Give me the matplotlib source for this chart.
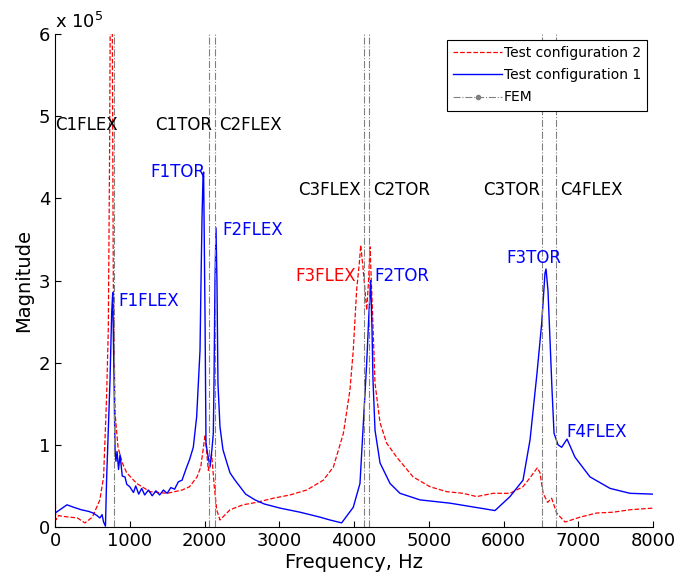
import numpy as np
import matplotlib; matplotlib.use("Agg")
import matplotlib.pyplot as plt

# Test configuration 1 (blue, solid)
freq1 = [0, 50, 160, 250, 350, 450, 510, 560, 600, 630, 650, 675, 690, 713, 736, 758, 772, 790,
         803, 815, 830, 850, 870, 900, 936, 960, 1000, 1050, 1080, 1120, 1160, 1200, 1250, 1300,
         1350, 1400, 1450, 1500, 1550, 1600, 1650, 1700, 1750, 1800, 1850, 1895, 1940, 1953, 1967,
         1980, 1988, 2007, 2020, 2040, 2074, 2100, 2118, 2127, 2140, 2154, 2167, 2180, 2207, 2247,
         2300, 2341, 2400, 2475, 2550, 2676, 2800, 3010, 3278, 3545, 3679, 3835, 3990, 4080, 4120,
         4170, 4200, 4223, 4241, 4254, 4281, 4348, 4482, 4615, 4883, 5284, 5686, 5886, 6087, 6261,
         6355, 6448, 6511, 6555, 6569, 6595, 6622, 6649, 6676, 6730, 6778, 6850, 6956, 7157, 7425,
         7692, 8000]
mag1 = [17e3, 20e3, 27e3, 24e3, 21e3, 19e3, 17e3, 14e3, 11e3, 15e3, 6e3, 1e3, 57e3, 118e3, 179e3,
        260e3, 285e3, 179e3, 94e3, 80e3, 92e3, 70e3, 88e3, 62e3, 61e3, 52e3, 49e3, 42e3, 50e3, 40e3,
        47e3, 39e3, 45e3, 38e3, 44e3, 39e3, 45e3, 41e3, 48e3, 46e3, 55e3, 57e3, 70e3, 82e3, 97e3,
        134e3, 215e3, 297e3, 377e3, 426e3, 432e3, 256e3, 102e3, 90e3, 73e3, 95e3, 114e3, 175e3,
        297e3, 364e3, 297e3, 175e3, 122e3, 94e3, 78e3, 66e3, 58e3, 49e3, 40e3, 33e3, 28e3, 23e3,
        18e3, 12e3, 8.5e3, 5e3, 24e3, 53e3, 118e3, 200e3, 260e3, 300e3, 240e3, 179e3, 118e3, 78e3,
        53e3, 41e3, 33e3, 29e3, 23e3, 20e3, 37e3, 57e3, 106e3, 187e3, 248e3, 309e3, 314e3, 288e3,
        228e3, 167e3, 114e3, 100e3, 97e3, 107e3, 85e3, 61e3, 47e3, 41e3, 40e3]

# Test configuration 2 (red, dashed)
freq2 = [0, 10, 50, 100, 200, 300, 400, 500, 600, 650, 690, 713, 730, 740, 765, 780, 803, 843, 900,
         959, 1093, 1271, 1500, 1700, 1800, 1900, 1950, 1990, 2007, 2030, 2051, 2075, 2096, 2130,
         2163, 2207, 2341, 2515, 2698, 2918, 3144, 3367, 3590, 3724, 3858, 3946, 3990, 4035, 4070,
         4090, 4120, 4170, 4195, 4214, 4250, 4281, 4348, 4437, 4571, 4790, 5017, 5240, 5458, 5641,
         5860, 6087, 6261, 6355, 6452, 6488, 6530, 6590, 6644, 6711, 6823, 7023, 7246, 7465, 7692,
         8000]
mag2 = [60e3, 8.5e3, 14e3, 13e3, 12e3, 11e3, 5e3, 12e3, 33e3, 61e3, 158e3, 240e3, 450e3, 640e3,
        640e3, 300e3, 139e3, 97e3, 78e3, 66e3, 53e3, 43e3, 41e3, 45e3, 49e3, 61e3, 73e3, 100e3,
        112e3, 90e3, 69e3, 80e3, 88e3, 50e3, 21e3, 8.5e3, 21e3, 27e3, 30e3, 35e3, 39e3, 45e3, 57e3,
        73e3, 114e3, 167e3, 215e3, 288e3, 320e3, 343e3, 316e3, 264e3, 300e3, 341e3, 256e3, 175e3,
        127e3, 102e3, 85e3, 61e3, 49e3, 43e3, 41e3, 37e3, 41e3, 41e3, 49e3, 60e3, 72e3, 66e3, 41e3,
        30e3, 35e3, 17e3, 6e3, 12e3, 17e3, 18e3, 21e3, 23e3]

# FEM modes
fem_freq = [795, 2064, 2140, 4138, 4205, 6511, 6702]

# labels: (text, x, y, colour)
labels = [("C1FLEX", 0, 489e3, "k"), ("C1TOR", 1338, 489e3, "k"), ("C2FLEX", 2194, 489e3, "k"),
          ("C3FLEX", 3251, 410e3, "k"), ("C2TOR", 4254, 410e3, "k"), ("C3TOR", 5726, 410e3, "k"),
          ("C4FLEX", 6756, 410e3, "k"),
          ("F1TOR", 1271, 432e3, "b"), ("F2FLEX", 2234, 361e3, "b"), ("F1FLEX", 843, 275e3, "b"),
          ("F3FLEX", 3211, 305e3, "r"), ("F2TOR", 4268, 305e3, "b"), ("F3TOR", 6033, 327e3, "b"),
          ("F4FLEX", 6836, 116e3, "b")]

fig = plt.figure(figsize=(6.77, 5.81), dpi=100)
ax = fig.add_axes([55/677, 54/581, 598/677, 493/581])

ax.plot(freq2, mag2, "--", color="r", lw=0.9, label="Test configuration 2")
ax.plot(freq1, mag1, "-", color="b", lw=1.0, label="Test configuration 1")
for f in fem_freq:
    ax.axvline(f, color="#808080", ls="-.", lw=0.8)
ax.plot([], [], "-.", marker=".", color="#808080", lw=0.8, label="FEM")

for txt, x, y, c in labels:
    ax.text(x, y, txt, color=c, fontsize=12, ha="left", va="center")

ax.set_xlim(0, 8000); ax.set_ylim(0, 6e5)
ax.set_xticks(range(0, 8001, 1000))
ax.set_yticks(np.arange(0, 6.01e5, 1e5))
ax.set_yticklabels([str(i) for i in range(7)])
ax.tick_params(direction="in", length=4, labelsize=13)
ax.spines["top"].set_visible(False); ax.spines["right"].set_visible(False)
ax.set_xlabel("Frequency, Hz", fontsize=14, labelpad=2)
ax.set_ylabel("Magnitude", fontsize=14, labelpad=4)
ax.text(0, 1.005, r"x $\mathregular{10^5}$", transform=ax.transAxes, fontsize=13, ha="left", va="bottom")

leg = ax.legend(loc="upper right", fontsize=10, fancybox=False, edgecolor="k", framealpha=1,
                handlelength=3.5, handletextpad=0.15, labelspacing=0.6, borderaxespad=0.4,
                borderpad=0.45)
leg.get_frame().set_linewidth(0.8)

fig.savefig("out.png", dpi=100)
